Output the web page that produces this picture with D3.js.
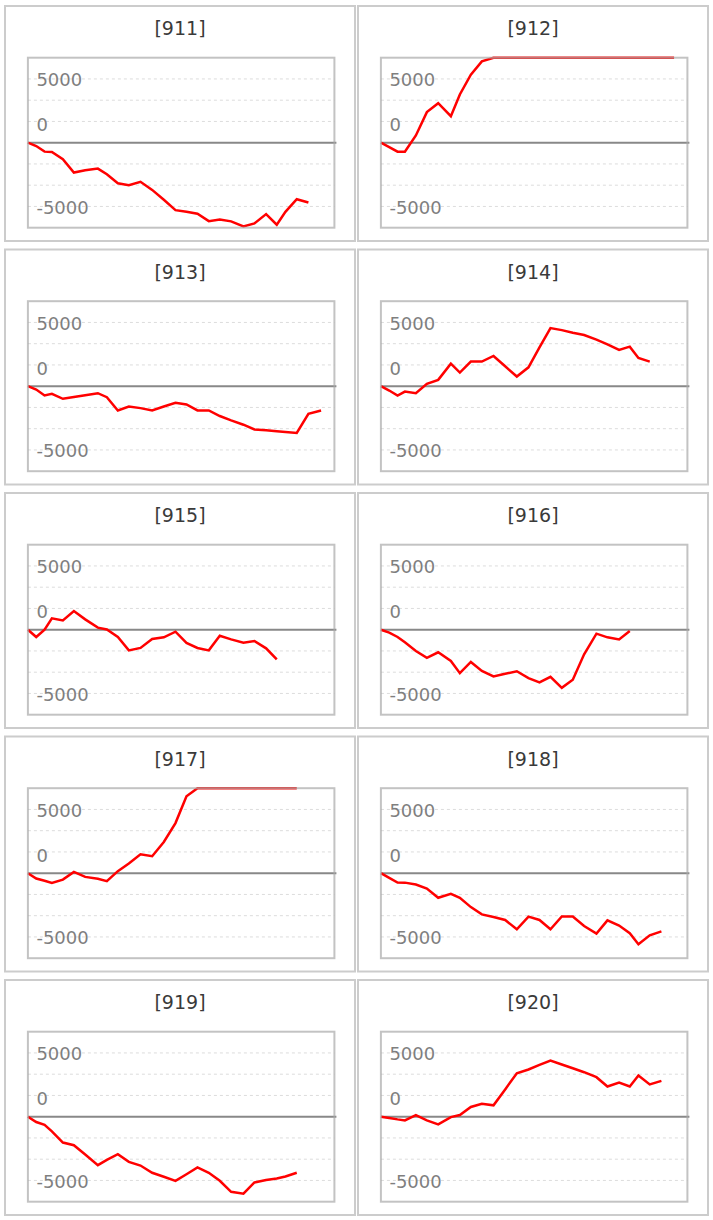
<!DOCTYPE html>
<html>
<head>
<meta charset="utf-8">
<script src="https://cdn.jsdelivr.net/npm/d3@7"></script>
<style>
  body { margin: 0; background: #fff; }
  text { font-family: "DejaVu Sans", Verdana, sans-serif; }
</style>
</head>
<body>
<div id="chart"></div>
<script>
// panel ids
const ids = ["911", "912", "913", "914", "915", "916", "917", "918", "919", "920"];

// shared x positions of the samples
const xDays = [0, 2.5, 5, 7.2, 10.5, 13.8, 17.2, 21, 23.7, 27, 30.3, 33.8, 37.3, 40.8,
  44.3, 47.6, 50.9, 54.3, 57.6, 61, 64.7, 68, 71.5, 74.7, 77.3, 80.7, 84.2, 88];

// y tick labels
const tickLabels = [5000, 0, -5000];

// series values (values above top are clipped)
const s911 = [0, -260, -700, -730, -1300, -2340, -2160, -2030, -2470, -3180, -3330, -3070, -3700, -4480,
  -5290, -5420, -5570, -6150, -6020, -6170, -6560, -6330, -5600, -6430, -5420, -4430, -4690];
const s912 = [0, -340, -700, -700, 570, 2400, 3100, 2080, 3780, 5340, 6380, 7350, 7900, 8600,
  9100, 8800, 9500, 10200, 9900, 10600, 11300, 10900, 11800, 12400, 12100, 12900, 13500, 13200];
const s913 = [0, -260, -730, -600, -990, -850, -710, -550, -860, -1900, -1590, -1720, -1900, -1590,
  -1300, -1430, -1900, -1900, -2340, -2680, -3020, -3390, -3460, -3540, -3590, -3670, -2160, -1900];
const s914 = [0, -340, -730, -420, -550, 180, 500, 1770, 1070, 1930, 1930, 2370, 1560, 760,
  1480, 3050, 4560, 4400, 4190, 4010, 3650, 3280, 2840, 3100, 2210, 1930];
const s915 = [0, -570, 0, 890, 730, 1460, 810, 160, 20, -570, -1620, -1430, -730, -600,
  -160, -1040, -1430, -1620, -470, -760, -1020, -890, -1460, -2320];
const s916 = [0, -230, -570, -990, -1670, -2210, -1770, -2450, -3410, -2530, -3230, -3670, -3460, -3260,
  -3800, -4140, -3700, -4560, -3930, -1930, -310, -600, -760, -100];
const s917 = [0, -420, -590, -760, -500, 100, -290, -440, -630, 160, 760, 1480, 1330, 2450,
  3930, 6040, 7100, 7800, 8400, 8100, 8900, 9600, 9300, 10100, 10700, 10400];
const s918 = [0, -370, -730, -740, -890, -1200, -1930, -1620, -1930, -2660, -3230, -3440, -3670, -4400,
  -3410, -3670, -4400, -3390, -3390, -4140, -4740, -3700, -4110, -4710, -5570, -4870, -4560];
const s919 = [0, -420, -630, -1150, -2030, -2240, -2970, -3800, -3390, -2940, -3540, -3830, -4400, -4710,
  -5030, -4510, -3980, -4400, -5030, -5890, -6040, -5160, -4970, -4840, -4690, -4400];
const s920 = [0, -100, -210, -290, 130, -290, -600, -30, 130, 760, 1020, 890, 2140, 3410,
  3700, 4060, 4400, 4090, 3800, 3490, 3100, 2370, 2680, 2370, 3230, 2530, 2810];

const series = [s911, s912, s913, s914, s915, s916, s917, s918, s919, s920];

const width = 713, height = 1220;
const yMax = 20000 / 3; // grid every 5000/3

const svg = d3.select("#chart").append("svg")
  .attr("width", width)
  .attr("height", height);

function drawPanel(i) {
  const col = i % 2, row = Math.floor(i / 2);
  const px = 5 + col * 353, py = 6 + row * 243.5;
  const pw = 350, ph = 235;

  const g = svg.append("g").attr("transform", `translate(${px},${py})`);

  // outer frame
  g.append("rect")
    .attr("width", pw).attr("height", ph)
    .attr("fill", "#fff")
    .attr("stroke", "#cccccc").attr("stroke-width", 2);

  g.append("text")
    .attr("x", pw / 2).attr("y", 22)
    .attr("text-anchor", "middle")
    .attr("dominant-baseline", "central")
    .style("font-size", "19px")
    .attr("fill", "#3a3a3a")
    .text(`[${ids[i]}]`);

  const left = 22.9, top = 51.7, w = 306.5, h = 170;

  const x = d3.scaleLinear().domain([0, 92]).range([left, left + w]);
  const y = d3.scaleLinear().domain([-yMax, yMax]).range([top + h, top]).clamp(true);

  // dashed grid
  const grid = d3.range(-3, 4).filter(k => k !== 0).map(k => k * 5000 / 3);
  g.append("g").selectAll("line").data(grid).join("line")
    .attr("x1", left).attr("x2", left + w)
    .attr("y1", d => y(d)).attr("y2", d => y(d))
    .attr("stroke", "#dcdcdc").attr("stroke-width", 1)
    .attr("stroke-dasharray", "3,3");

  // tick labels, the 0 one sits above the zero line
  g.append("g").selectAll("text").data(tickLabels).join("text")
    .attr("x", left + 8.5)
    .attr("y", d => (d === 0 ? y(d) - 18 : y(d) + 1))
    .attr("dominant-baseline", "central")
    .style("font-size", "18px")
    .attr("fill", "#7f7f7f")
    .text(d => d);

  // zero line
  g.append("line")
    .attr("x1", left).attr("x2", left + w + 2)
    .attr("y1", y(0)).attr("y2", y(0))
    .attr("stroke", "#888").attr("stroke-width", 2);

  const line = d3.line()
    .x((d, j) => x(xDays[j]))
    .y(d => y(d));

  g.append("path")
    .datum(series[i])
    .attr("fill", "none")
    .attr("stroke", "#ff0000")
    .attr("stroke-width", 2.5)
    .attr("d", line);

  // plot frame on top (lets the clipped line show through a bit)
  g.append("rect")
    .attr("x", left).attr("y", top)
    .attr("width", w).attr("height", h)
    .attr("fill", "none")
    .attr("stroke", "#aaa").attr("stroke-opacity", 0.7)
    .attr("stroke-width", 2);
}

ids.forEach((id, i) => drawPanel(i));
</script>
</body>
</html>
